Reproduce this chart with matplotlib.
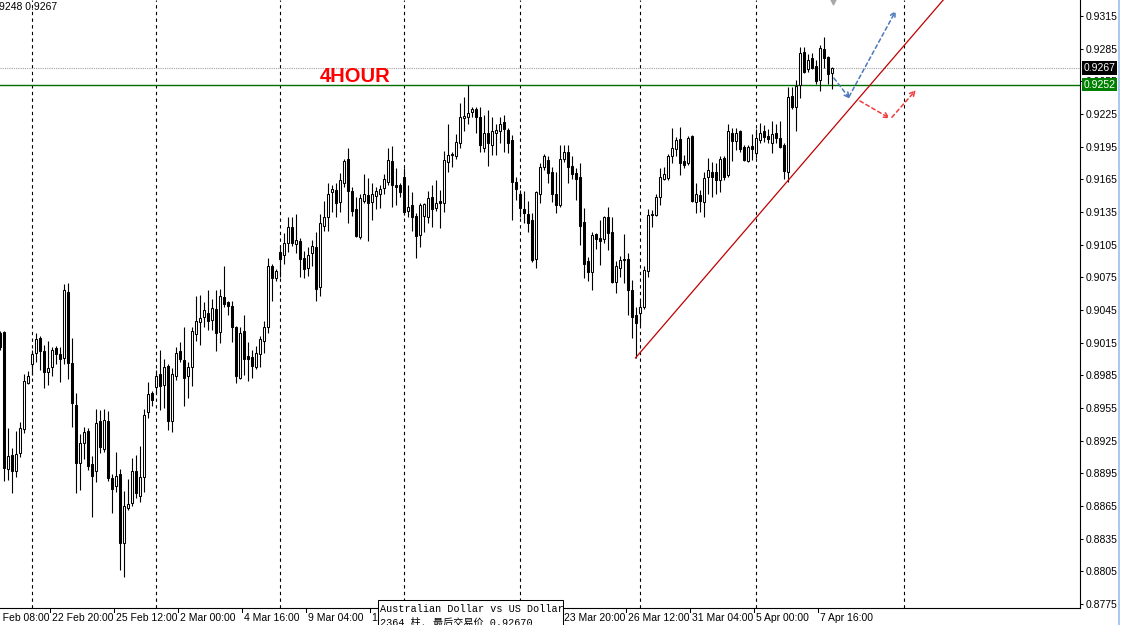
import numpy as np
import matplotlib.pyplot as plt
from matplotlib.patches import Rectangle

plt.rcParams['font.family'] = ['Liberation Sans', 'DejaVu Sans']

# AUDUSD H4 candles, prices in pips (x 1e-4), bar index -1 .. 207
bars = np.arange(-1, 208)
opens = np.array([
    9024, 9025, 8899, 8912, 8897, 8914, 8936, 8978, 8995, 9006,
    9019, 9007, 8988, 8993, 9010, 9005, 9001, 9062, 8996, 8958,
    8905, 8923, 8934, 8904, 8897, 8943, 8917, 8943, 8891, 8883,
    8894, 8831, 8863, 8868, 8897, 8874, 8892, 8951, 8969, 8974,
    8986, 8976, 8994, 8943, 8984, 9007, 8999, 8984, 8993, 9023,
    9034, 9039, 9042, 9036, 9046, 9025, 9057, 9052, 9049, 9029,
    8983, 9026, 9003, 9002, 8993, 9005, 9017, 9029, 9085, 9074,
    9098, 9096, 9107, 9121, 9106, 9108, 9093, 9084, 9097, 9103,
    9066, 9122, 9130, 9153, 9155, 9144, 9162, 9184, 9154, 9138,
    9112, 9145, 9151, 9144, 9150, 9152, 9157, 9163, 9182, 9160,
    9160, 9167, 9136, 9141, 9131, 9114, 9131, 9130, 9149, 9139,
    9145, 9143, 9181, 9188, 9186, 9198, 9221, 9222, 9227, 9230,
    9222, 9194, 9208, 9197, 9208, 9209, 9218, 9210, 9201, 9163,
    9152, 9138, 9133, 9128, 9092, 9152, 9176, 9183, 9172, 9152,
    9141, 9184, 9190, 9177, 9171, 9167, 9126, 9090, 9080, 9115,
    9111, 9110, 9130, 9117, 9071, 9084, 9092, 9092, 9063, 9040,
    9042, 9048, 9081, 9132, 9132, 9149, 9165, 9166, 9186, 9193,
    9202, 9182, 9180, 9205, 9144, 9151, 9144, 9167, 9172, 9172,
    9164, 9185, 9169, 9208, 9200, 9209, 9195, 9182, 9196, 9189,
    9201, 9209, 9205, 9198, 9208, 9203, 9197, 9172, 9242, 9231,
    9252, 9282, 9266, 9276, 9269, 9256, 9285, 9277, 9263]) / 10000
highs = np.array([
    9026, 9026, 8937, 8918, 8934, 8942, 8986, 8989, 9008, 9024,
    9021, 9013, 9017, 9011, 9012, 9011, 9069, 9070, 9019, 8969,
    8931, 8938, 8937, 8911, 8954, 8953, 8954, 8952, 8894, 8915,
    8899, 8879, 8890, 8909, 8912, 8920, 8954, 8979, 8971, 8990,
    9008, 9000, 8995, 8992, 9011, 9016, 9029, 8997, 9029, 9058,
    9059, 9052, 9063, 9055, 9063, 9064, 9085, 9053, 9053, 9030,
    9029, 9040, 9016, 9008, 9012, 9021, 9035, 9093, 9087, 9083,
    9105, 9116, 9130, 9130, 9133, 9111, 9099, 9103, 9109, 9117,
    9133, 9145, 9162, 9160, 9162, 9171, 9184, 9194, 9158, 9149,
    9152, 9170, 9166, 9162, 9158, 9160, 9170, 9194, 9196, 9175,
    9162, 9175, 9160, 9153, 9134, 9143, 9143, 9154, 9160, 9164,
    9155, 9191, 9216, 9190, 9207, 9235, 9241, 9252, 9231, 9231,
    9231, 9224, 9229, 9222, 9216, 9222, 9224, 9212, 9206, 9167,
    9155, 9154, 9145, 9134, 9154, 9180, 9188, 9186, 9176, 9172,
    9197, 9197, 9197, 9186, 9175, 9180, 9139, 9094, 9117, 9116,
    9128, 9131, 9140, 9130, 9090, 9095, 9115, 9097, 9073, 9048,
    9054, 9085, 9138, 9137, 9152, 9175, 9176, 9188, 9212, 9204,
    9213, 9187, 9205, 9206, 9162, 9155, 9172, 9185, 9181, 9180,
    9186, 9186, 9216, 9212, 9212, 9210, 9197, 9197, 9207, 9211,
    9217, 9215, 9211, 9219, 9216, 9219, 9198, 9250, 9250, 9256,
    9287, 9287, 9280, 9281, 9275, 9288, 9296, 9278, 9268]) / 10000
lows = np.array([
    9008, 8888, 8889, 8877, 8892, 8910, 8932, 8977, 8985, 8997,
    8990, 8973, 8976, 8984, 8995, 8979, 8995, 8982, 8938, 8877,
    8880, 8908, 8898, 8855, 8887, 8914, 8915, 8888, 8859, 8878,
    8806, 8800, 8861, 8865, 8872, 8869, 8878, 8946, 8957, 8969,
    8953, 8955, 8935, 8933, 8981, 8997, 8957, 8964, 8975, 9017,
    9013, 9029, 9027, 9027, 9007, 9015, 9048, 9040, 9016, 8978,
    8982, 8985, 8980, 8983, 8991, 8993, 9006, 9024, 9053, 9072,
    9075, 9087, 9098, 9104, 9097, 9075, 9074, 9076, 9085, 9053,
    9058, 9118, 9118, 9135, 9130, 9135, 9158, 9125, 9131, 9112,
    9110, 9143, 9108, 9128, 9138, 9139, 9152, 9160, 9140, 9141,
    9149, 9132, 9130, 9118, 9093, 9103, 9117, 9125, 9121, 9136,
    9120, 9135, 9172, 9176, 9184, 9194, 9209, 9216, 9222, 9208,
    9190, 9190, 9177, 9187, 9187, 9198, 9190, 9189, 9128, 9146,
    9130, 9125, 9117, 9089, 9084, 9143, 9174, 9162, 9144, 9134,
    9140, 9181, 9162, 9165, 9146, 9105, 9074, 9072, 9063, 9101,
    9086, 9107, 9100, 9070, 9061, 9075, 9070, 9040, 9019, 9001,
    9031, 9046, 9075, 9121, 9131, 9141, 9164, 9164, 9180, 9186,
    9169, 9175, 9178, 9144, 9134, 9135, 9130, 9152, 9149, 9152,
    9153, 9164, 9167, 9182, 9192, 9190, 9182, 9181, 9183, 9185,
    9198, 9199, 9198, 9189, 9198, 9194, 9165, 9163, 9230, 9209,
    9240, 9263, 9264, 9266, 9253, 9246, 9267, 9253, 9248]) / 10000
closes = np.array([
    9011, 8900, 8911, 8897, 8913, 8937, 8980, 8984, 9005, 9018,
    9007, 8988, 8992, 9008, 9005, 9000, 9063, 8996, 8960, 8905,
    8923, 8933, 8902, 8893, 8941, 8919, 8944, 8891, 8881, 8893,
    8831, 8865, 8867, 8897, 8877, 8892, 8949, 8968, 8962, 8984,
    8975, 8993, 8943, 8986, 9006, 9000, 8983, 8993, 9026, 9035,
    9038, 9045, 9035, 9047, 9024, 9058, 9051, 9049, 9029, 8984,
    9024, 9000, 9000, 8994, 9006, 9018, 9029, 9085, 9074, 9081,
    9092, 9107, 9121, 9107, 9109, 9092, 9083, 9096, 9104, 9064,
    9125, 9130, 9152, 9156, 9143, 9164, 9182, 9154, 9136, 9113,
    9148, 9152, 9143, 9152, 9154, 9156, 9165, 9183, 9160, 9158,
    9153, 9135, 9140, 9130, 9113, 9141, 9142, 9148, 9138, 9143,
    9143, 9183, 9187, 9187, 9199, 9222, 9223, 9226, 9230, 9222,
    9197, 9208, 9198, 9209, 9210, 9216, 9211, 9198, 9163, 9156,
    9139, 9134, 9125, 9091, 9153, 9176, 9186, 9171, 9152, 9141,
    9184, 9190, 9176, 9170, 9165, 9122, 9087, 9080, 9114, 9110,
    9108, 9130, 9116, 9071, 9085, 9091, 9091, 9063, 9039, 9033,
    9048, 9082, 9132, 9133, 9149, 9167, 9170, 9186, 9194, 9201,
    9180, 9178, 9203, 9145, 9152, 9145, 9166, 9174, 9167, 9164,
    9184, 9167, 9209, 9200, 9208, 9193, 9183, 9195, 9193, 9203,
    9208, 9204, 9202, 9207, 9203, 9195, 9173, 9241, 9231, 9251,
    9281, 9264, 9275, 9267, 9255, 9286, 9276, 9262, 9267]) / 10000

price_ticks = np.arange(0.8775, 0.93151, 0.003)
date_bars = [-4, 12, 28, 44, 60, 76, 140, 156, 172, 188, 204]
date_labels = ['19 Feb 08:00', '22 Feb 20:00', '25 Feb 12:00', '2 Mar 00:00',
               '4 Mar 16:00', '9 Mar 04:00', '23 Mar 20:00', '26 Mar 12:00',
               '31 Mar 04:00', '5 Apr 00:00', '7 Apr 16:00']
hidden_bar, hidden_label = 92, '11 Mar 20:00'   # mostly under the tooltip
grid_bars = [7, 38, 69, 100, 129, 159, 188, 225]
last_price = 0.9267
level_price = 0.9252

# trendline and projected paths (bar index, price)
trend_bars = [158, 235]
trend_prices = [0.9001, 0.9330]
blue_paths = [((207.6, 0.9258), (211.6, 0.9239)), ((211.4, 0.9241), (223.1, 0.9320))]
red_paths = [((214.1, 0.9237), (221.6, 0.9221)), ((222.1, 0.9222), (228.1, 0.9247))]

W, H = 1121, 625
fig = plt.figure(figsize=(W / 100, H / 100), dpi=100)
ax = fig.add_axes([0, 17 / H, 1080 / W, 608 / H])
ax.set_xlim(-0.875, 269.125)
ax.set_ylim(0.87714, 0.93297)

for b in grid_bars:
    ax.axvline(b, color='black', lw=0.8, ls=(0, (3, 3)), zorder=1)

ax.axhline(last_price, color='#a0a0a0', lw=0.8, ls=(0, (1, 1)), zorder=1)
ax.axhline(level_price, color='#007000', lw=1.0, zorder=2)

# candles
up = closes >= opens
ax.vlines(bars, lows, highs, color='black', lw=0.8, zorder=3)
ax.bar(bars, np.maximum(np.abs(closes - opens), 0.00003),
       bottom=np.minimum(opens, closes), width=0.5,
       color=np.where(up, 'white', 'black'), edgecolor='black', lw=0.75, zorder=4)

ax.plot(trend_bars, trend_prices, color='#c00000', lw=0.9, zorder=5)

for paths, col in ((blue_paths, '#4a78b8'), (red_paths, '#f03c3c')):
    for start, end in paths:
        ax.annotate('', xy=end, xytext=start,
                    arrowprops=dict(arrowstyle='->', color=col, lw=1.1,
                                    ls=(0, (2.5, 2)), shrinkA=0, shrinkB=0,
                                    mutation_scale=9),
                    zorder=6, annotation_clip=False)

ax.scatter([207.4], [0.93297], marker='v', s=40, color='#a8a8a8', zorder=6, clip_on=False)

ax.text(79.1, 0.9259, '4HOUR', color='#ff0000', fontsize=14.5, fontweight='bold',
        ha='left', va='center', zorder=6)

# right price axis
ax.yaxis.tick_right()
ax.set_yticks(price_ticks)
ax.set_yticklabels([f'{p:.4f}' for p in price_ticks])
ax.tick_params(axis='y', direction='out', length=2.2, width=0.75, pad=1.5, labelsize=7.5)
ax.set_xticks([])
for side in ('left', 'top'):
    ax.spines[side].set_visible(False)
for side in ('right', 'bottom'):
    ax.spines[side].set_linewidth(0.8)

for p, bg in ((last_price, 'black'), (level_price, '#008000')):
    ax.annotate(f'{p:.4f}', xy=(1, p), xycoords=ax.get_yaxis_transform(),
                xytext=(2.6, 0), textcoords='offset points', ha='left', va='center',
                fontsize=7.5, color='white', zorder=10, annotation_clip=False,
                bbox=dict(boxstyle='square,pad=0.18', fc=bg, ec='none'))

# time axis
trans = ax.get_xaxis_transform()
for b, lab in zip(date_bars + [hidden_bar], date_labels + [hidden_label]):
    ax.plot([b - 0.4, b - 0.4], [0, -0.007], transform=trans, color='black',
            lw=0.75, clip_on=False)
    ax.text(b + 0.1, -0.009, lab, transform=trans, ha='left', va='top',
            fontsize=7.5, clip_on=False)

fig.text(-1 / W, 1 - 7 / H, '9248 0.9267', fontsize=7.5, ha='left', va='center')

# symbol tooltip
fig.add_artist(Rectangle((378 / W, -0.02), 185 / W, 0.06, transform=fig.transFigure,
                         fc='white', ec='black', lw=0.75, zorder=10))
mono = ['Liberation Mono', 'Noto Sans CJK SC']
fig.text(380 / W, (H - 609) / H, 'Australian Dollar vs US Dollar', family=mono,
         fontsize=7.3, ha='left', va='center', zorder=11)
fig.text(380 / W, (H - 622) / H, '2364 柱, 最后交易价 0.92670', family=mono,
         fontsize=7.3, ha='left', va='center', zorder=11)

fig.add_artist(Rectangle((1118 / W, 0), 2 / W, 1, transform=fig.transFigure,
                         fc='#a9c9ef', ec='none', zorder=10))

fig.savefig('out.png', dpi=100)
